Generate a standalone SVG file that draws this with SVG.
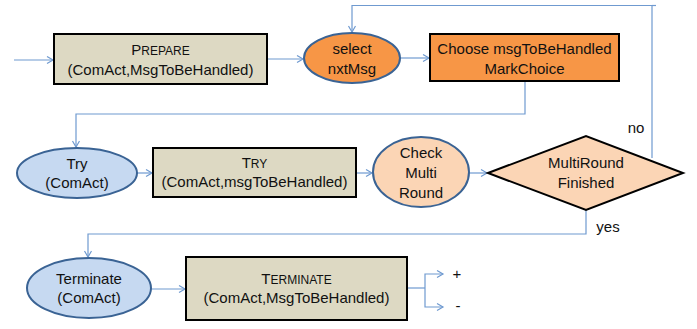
<svg xmlns="http://www.w3.org/2000/svg" width="697" height="329" viewBox="0 0 697 329">
<style>
text{font-family:"Liberation Sans",Arial,sans-serif;font-size:15px;fill:#111;text-anchor:middle}
.sm{font-size:12px}
.box{fill:#DDD9C3;stroke:#000;stroke-width:2}
.obox{fill:#F79646;stroke:#000;stroke-width:2}
.oell{fill:#F79646;stroke:#3A6394;stroke-width:2}
.bell{fill:#C6D9F1;stroke:#3A6394;stroke-width:2}
.pell{fill:#FBD5B5;stroke:#3A6394;stroke-width:2}
.dia{fill:#FBD5B5;stroke:#000;stroke-width:2}
.c{fill:none;stroke:#6F9AD0;stroke-width:1.2}
.a{marker-end:url(#arr)}
</style>
<defs>
<marker id="arr" markerUnits="userSpaceOnUse" markerWidth="10" markerHeight="10" refX="7" refY="4" orient="auto">
<path d="M1,0.5 L7,4 L1,7.5" fill="none" stroke="#6F9AD0" stroke-width="1.2"/>
</marker>
</defs>
<rect width="697" height="329" fill="#fff"/>
<g id="connectors">
<path class="c a" d="M14,60 H53"/>
<path class="c a" d="M267,59 H303"/>
<path class="c a" d="M400,58 H429"/>
<path class="c a" d="M652,158 V5.5 H352 V32"/>
<path class="c" d="M652,5.5 H656"/>
<path class="c a" d="M525,82 V114 H76 V147"/>
<path class="c a" d="M137,173 H152"/>
<path class="c a" d="M356,173 H372"/>
<path class="c a" d="M469,173 H487"/>
<path class="c a" d="M586,210 V234 H88 V257"/>
<path class="c a" d="M151,289 H185"/>
<path class="c" d="M408,288 H425"/>
<path class="c a" d="M425,288 V274 H443"/>
<path class="c a" d="M425,288 V307 H443"/>
<text x="636" y="133">no</text>
<text x="608" y="232">yes</text>
<text x="457" y="279">+</text>
<text x="458" y="311">-</text>
</g>
<g id="prepare">
<rect class="box" x="54" y="34" width="213" height="50"/>
<text x="160.5" y="55">P<tspan class="sm">REPARE</tspan></text>
<text x="160.5" y="75">(ComAct,MsgToBeHandled)</text>
</g>
<g id="select">
<ellipse class="oell" cx="352" cy="58" rx="48" ry="25"/>
<text x="352" y="54">select</text>
<text x="352" y="74">nxtMsg</text>
</g>
<g id="choose">
<rect class="obox" x="430" y="34" width="189" height="47"/>
<text x="524.5" y="54">Choose msgToBeHandled</text>
<text x="524.5" y="74">MarkChoice</text>
</g>
<g id="try">
<ellipse class="bell" cx="77" cy="173" rx="60" ry="25"/>
<text x="77" y="169">Try</text>
<text x="77" y="188">(ComAct)</text>
</g>
<g id="tryBox">
<rect class="box" x="153" y="148" width="203" height="49"/>
<text x="254.5" y="168">T<tspan class="sm">RY</tspan></text>
<text x="254.5" y="187">(ComAct,msgToBeHandled)</text>
</g>
<g id="check">
<ellipse class="pell" cx="421" cy="172" rx="48" ry="35"/>
<text x="421" y="158">Check</text>
<text x="421" y="178">Multi</text>
<text x="421" y="198">Round</text>
</g>
<g id="multiRound">
<polygon class="dia" points="488,173 586,136 683,173 586,210"/>
<text x="586" y="168">MultiRound</text>
<text x="586" y="188">Finished</text>
</g>
<g id="terminate">
<ellipse class="bell" cx="89" cy="288" rx="62" ry="30"/>
<text x="89" y="284">Terminate</text>
<text x="89" y="303">(ComAct)</text>
</g>
<g id="terminateBox">
<rect class="box" x="186" y="257" width="221" height="63"/>
<text x="296.5" y="284">T<tspan class="sm">ERMINATE</tspan></text>
<text x="296.5" y="303">(ComAct,MsgToBeHandled)</text>
</g>
</svg>
